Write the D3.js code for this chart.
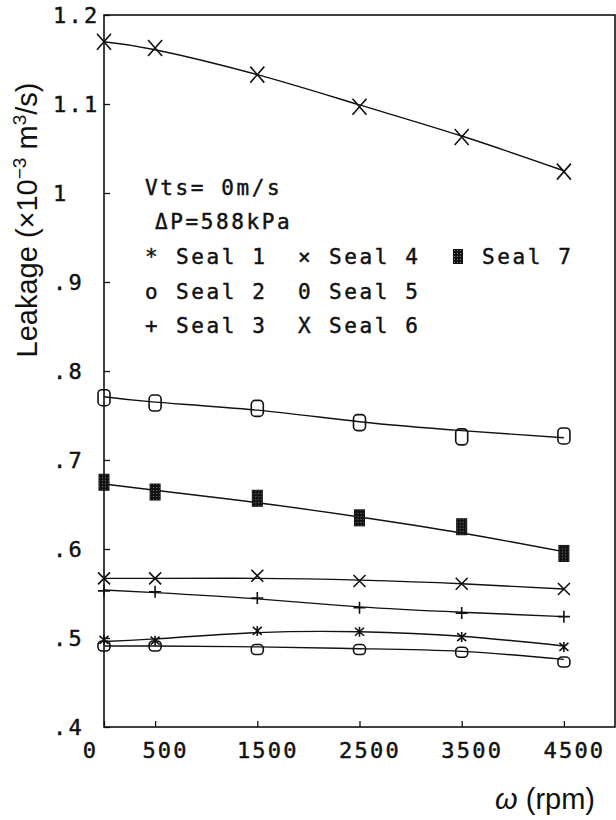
<!DOCTYPE html>
<html>
<head>
<meta charset="utf-8">
<script src="https://cdn.jsdelivr.net/npm/d3@7"></script>
<style>
  body { margin: 0; background: #fff; }
  .mono { font-family: "DejaVu Sans Mono", monospace; fill: #111; stroke: #111; stroke-width: 0.45px; }
  .sans { font-family: "Liberation Sans", Arial, sans-serif; fill: #111; }
</style>
</head>
<body>
<div id="chart"></div>
<script>
// rotational speed (rpm) at which each seal was measured
const rpm = [0, 500, 1500, 2500, 3500, 4500];

// measured leakage, x10^-3 m3/s (markers)
const seal1 = [0.498, 0.497, 0.508, 0.507, 0.501, 0.490];
const seal2 = [0.491, 0.491, 0.487, 0.487, 0.484, 0.473];
const seal3 = [0.553, 0.552, 0.545, 0.534, 0.528, 0.524];
const seal4 = [0.567, 0.567, 0.570, 0.564, 0.561, 0.555];
const seal5 = [0.770, 0.764, 0.758, 0.742, 0.726, 0.727];
const seal6 = [1.170, 1.163, 1.133, 1.097, 1.063, 1.024];
const seal7 = [0.675, 0.664, 0.657, 0.635, 0.625, 0.595];

// fitted curves as drawn in the figure (read at the same speeds)
const seal1Fit = [0.496, 0.499, 0.506, 0.507, 0.502, 0.491];
const seal2Fit = [0.491, 0.491, 0.490, 0.488, 0.485, 0.476];
const seal3Fit = [0.554, 0.551, 0.544, 0.535, 0.529, 0.524];
const seal4Fit = [0.567, 0.567, 0.567, 0.565, 0.561, 0.555];
const seal5Fit = [0.771, 0.765, 0.756, 0.743, 0.733, 0.725];
const seal6Fit = [1.170, 1.161, 1.133, 1.099, 1.064, 1.025];
const seal7Fit = [0.673, 0.666, 0.652, 0.636, 0.618, 0.597];

const sealNames = ["Seal 1", "Seal 2", "Seal 3", "Seal 4", "Seal 5", "Seal 6", "Seal 7"];
const sealSymbols = ["*", "o", "+", "\u00d7", "0", "X", "block"];

const xTicks = [0, 500, 1500, 2500, 3500, 4500];
const yTicks = [0.4, 0.5, 0.6, 0.7, 0.8, 0.9, 1.0, 1.1, 1.2];
const yTickLabels = [".4", ".5", ".6", ".7", ".8", ".9", "1", "1.1", "1.2"];

const conditionLines = ["Vts= 0m/s", "\u0394P=588kPa"];

const width = 616, height = 820;

const svg = d3.select("#chart").append("svg")
  .attr("width", width)
  .attr("height", height);

// stippled fill used by the Seal 7 markers
const pat = svg.append("defs").append("pattern")
  .attr("id", "stip").attr("width", 3).attr("height", 3)
  .attr("patternUnits", "userSpaceOnUse");
pat.append("rect").attr("width", 3).attr("height", 3).attr("fill", "#111");
pat.append("rect").attr("x", 1).attr("y", 1).attr("width", 1).attr("height", 1).attr("fill", "#888");

const x = d3.scaleLinear().domain([0, 5000]).range([104, 615]);
const y = d3.scaleLinear().domain([0.4, 1.2]).range([727, 15]);

// frame
svg.append("rect")
  .attr("x", x(0)).attr("y", y(1.2))
  .attr("width", x(5000) - x(0)).attr("height", y(0.4) - y(1.2))
  .attr("fill", "none").attr("stroke", "#111").attr("stroke-width", 1.6);

// y axis, ticks pointing inward, labels left-aligned
const yAxis = svg.append("g")
  .attr("transform", `translate(${x(0)},0)`)
  .call(d3.axisLeft(y).tickValues(yTicks)
    .tickFormat((d, i) => yTickLabels[i])
    .tickSizeInner(-6).tickSizeOuter(0));
yAxis.select(".domain").remove();
yAxis.selectAll("line").attr("stroke", "#111").attr("stroke-width", 1.3);
yAxis.selectAll("text")
  .attr("class", "mono")
  .attr("x", -51)
  .attr("text-anchor", "start")
  .attr("font-size", 22)
  .attr("letter-spacing", 2.2);

// x axis
const xAxis = svg.append("g")
  .attr("transform", `translate(0,${y(0.4)})`)
  .call(d3.axisBottom(x).tickValues(xTicks)
    .tickFormat(d => String(d))
    .tickSizeInner(-6).tickSizeOuter(0));
xAxis.select(".domain").remove();
xAxis.selectAll("line").attr("stroke", "#111").attr("stroke-width", 1.3);
xAxis.selectAll("text")
  .attr("class", "mono")
  .attr("y", 31).attr("dy", 0)
  .attr("dx", d => d === 0 ? -14 : 10)
  .attr("font-size", 22)
  .attr("letter-spacing", 2.2);

// axis titles
const yTitle = svg.append("text")
  .attr("class", "sans")
  .attr("transform", "translate(37,220) rotate(-90)")
  .attr("text-anchor", "middle")
  .attr("font-size", 29);
yTitle.append("tspan").text("Leakage (\u00d710");
yTitle.append("tspan").attr("dy", -11).attr("font-size", 19).text("\u22123");
yTitle.append("tspan").attr("dy", 11).text(" m");
yTitle.append("tspan").attr("dy", -11).attr("font-size", 19).text("3");
yTitle.append("tspan").attr("dy", 11).text("/s)");

const xTitle = svg.append("text")
  .attr("class", "sans")
  .attr("x", 595).attr("y", 809)
  .attr("text-anchor", "end")
  .attr("font-size", 29);
xTitle.append("tspan").attr("font-style", "italic").text("\u03c9");
xTitle.append("tspan").text(" (rpm)");

// series
const series = [
  { vals: seal1, fit: seal1Fit, sym: "star" },
  { vals: seal2, fit: seal2Fit, sym: "o" },
  { vals: seal3, fit: seal3Fit, sym: "plus" },
  { vals: seal4, fit: seal4Fit, sym: "x" },
  { vals: seal5, fit: seal5Fit, sym: "zero" },
  { vals: seal6, fit: seal6Fit, sym: "bigX" },
  { vals: seal7, fit: seal7Fit, sym: "block" }
];

const line = d3.line()
  .x((d, i) => x(rpm[i]))
  .y(d => y(d))
  .curve(d3.curveNatural);

svg.append("g").selectAll("path")
  .data(series)
  .enter().append("path")
  .attr("d", d => line(d.fit))
  .attr("fill", "none")
  .attr("stroke", "#111")
  .attr("stroke-width", 1.4);

function drawMarker(g, sym) {
  if (sym === "bigX") {
    g.append("path").attr("d", "M-7,-8L7,8M-7,8L7,-8");
  } else if (sym === "x") {
    g.append("path").attr("d", "M-6,-6L6,6M-6,6L6,-6");
  } else if (sym === "plus") {
    g.append("path").attr("d", "M-6,0L6,0M0,-6L0,6");
  } else if (sym === "star") {
    g.append("path").attr("d", "M0,-5L0,5M-4.5,-4L4.5,4M-4.5,4L4.5,-4");
  } else if (sym === "o") {
    g.append("rect").attr("x", -6).attr("y", -5).attr("width", 12).attr("height", 10).attr("rx", 4);
  } else if (sym === "zero") {
    g.append("rect").attr("x", -6).attr("y", -8).attr("width", 12).attr("height", 16).attr("rx", 4);
  } else if (sym === "block") {
    g.append("rect").attr("x", -5).attr("y", -8).attr("width", 10).attr("height", 16)
      .attr("fill", "url(#stip)").attr("stroke", "#111").attr("stroke-width", 1);
  }
}

series.forEach(s => {
  const g = svg.append("g");
  s.vals.forEach((v, i) => {
    const m = g.append("g")
      .attr("transform", `translate(${x(rpm[i])},${y(v)})`)
      .attr("fill", "none")
      .attr("stroke", "#111")
      .attr("stroke-width", 1.6);
    drawMarker(m, s.sym);
  });
});

// legend / conditions text
const fs = 21, ls = 2.6;
conditionLines.forEach((t, i) => {
  svg.append("text")
    .attr("class", "mono")
    .attr("x", i === 0 ? 145 : 155)
    .attr("y", 195 + i * 34)
    .attr("font-size", fs)
    .attr("letter-spacing", ls)
    .text(t);
});

const colX = [145, 298, 451];
sealNames.forEach((name, i) => {
  const col = Math.floor(i / 3), row = i % 3;
  const bx = colX[col], by = 264 + row * 34.5;
  if (sealSymbols[i] === "block") {
    svg.append("rect")
      .attr("x", bx + 2).attr("y", by - 15)
      .attr("width", 10).attr("height", 15)
      .attr("fill", "url(#stip)");
  } else {
    svg.append("text")
      .attr("class", "mono")
      .attr("x", bx).attr("y", by)
      .attr("font-size", fs)
      .text(sealSymbols[i]);
  }
  svg.append("text")
    .attr("class", "mono")
    .attr("x", bx + 31).attr("y", by)
    .attr("font-size", fs)
    .attr("letter-spacing", ls)
    .text(name);
});
</script>
</body>
</html>
